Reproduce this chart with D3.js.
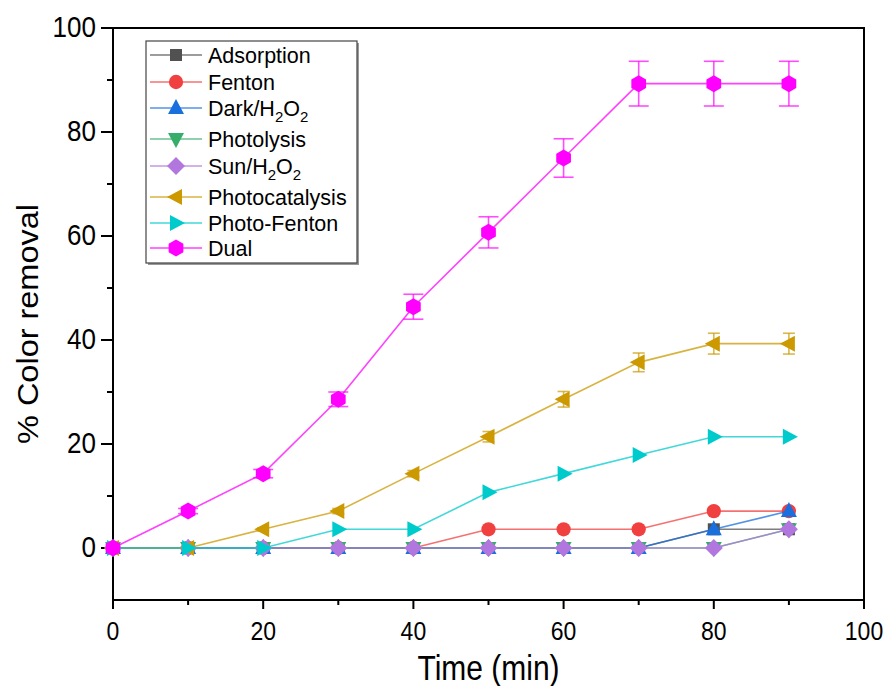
<!DOCTYPE html>
<html>
<head>
<meta charset="utf-8">
<script src="https://cdn.jsdelivr.net/npm/d3@7/dist/d3.min.js"></script>
<style>
  html, body { margin: 0; padding: 0; background: #fff; }
  svg { display: block; font-family: "Liberation Sans", Arial, sans-serif; }
</style>
</head>
<body>
<div id="chart"></div>
<script>
const times = [0, 10, 20, 30, 40, 50, 60, 70, 80, 90];

const adsorption = [0, 0, 0, 0, 0, 0, 0, 0, 3.6, 3.6];
const fenton = [0, 0, 0, 0, 0, 3.6, 3.6, 3.6, 7.1, 7.1];
const darkH2O2 = [0, 0, 0, 0, 0, 0, 0, 0, 3.6, 7.1];
const photolysis = [0, 0, 0, 0, 0, 0, 0, 0, 0, 3.6];
const sunH2O2 = [0, 0, 0, 0, 0, 0, 0, 0, 0, 3.6];
const photocatalysis = [0, 0, 3.6, 7.1, 14.3, 21.4, 28.6, 35.7, 39.3, 39.3];
const photocatalysisErr = [0, 0, 0.3, 0.5, 0.6, 1.0, 1.5, 1.8, 2.0, 2.0];
const photoFenton = [0, 0, 0, 3.6, 3.6, 10.7, 14.3, 17.9, 21.4, 21.4];
const dual = [0, 7.1, 14.3, 28.6, 46.4, 60.7, 75.0, 89.3, 89.3, 89.3];
const dualErr = [0, 0.5, 0.8, 1.4, 2.4, 3.0, 3.7, 4.3, 4.3, 4.3];

const xTicks = [0, 20, 40, 60, 80, 100];
const yTicks = [0, 20, 40, 60, 80, 100];

const series = [
  { name: 'Adsorption', values: adsorption, color: '#515151', shape: 'square' },
  { name: 'Fenton', values: fenton, color: '#F14040', shape: 'circle' },
  { name: 'Dark/H|2|O|2', values: darkH2O2, color: '#1A6FDF', shape: 'up' },
  { name: 'Photolysis', values: photolysis, color: '#37AD6B', shape: 'down' },
  { name: 'Sun/H|2|O|2', values: sunH2O2, color: '#B177DE', shape: 'diamond' },
  { name: 'Photocatalysis', values: photocatalysis, err: photocatalysisErr, color: '#CC9900', shape: 'left', cap: 6 },
  { name: 'Photo-Fenton', values: photoFenton, color: '#00CBCC', shape: 'right' },
  { name: 'Dual', values: dual, err: dualErr, color: '#FF00FF', shape: 'hex', cap: 10 }
];

const width = 888, height = 686;
const margin = { top: 28, right: 24, bottom: 86, left: 113 };
const innerW = width - margin.left - margin.right;
const innerH = height - margin.top - margin.bottom;

const svg = d3.select('#chart').append('svg').attr('width', width).attr('height', height);
const plot = svg.append('g').attr('transform', `translate(${margin.left},${margin.top})`);

const x = d3.scaleLinear().domain([0, 100]).range([0, innerW]);
const y = d3.scaleLinear().domain([-10, 100]).range([innerH, 0]);

function markerPath(shape) {
  switch (shape) {
    case 'square': return 'M-6,-6H6V6H-6Z';
    case 'circle': return d3.symbol(d3.symbolCircle, 160)();
    case 'up': return 'M0,-9L8,6H-8Z';
    case 'down': return 'M0,9L8,-6H-8Z';
    case 'left': return 'M-9,0L6,-8V8Z';
    case 'right': return 'M9,0L-6,-8V8Z';
    case 'diamond': return 'M0,-9L9,0L0,9L-9,0Z';
    case 'hex': {
      const pts = d3.range(6).map((i) => {
        const a = Math.PI / 6 + i * Math.PI / 3;
        return [8.5 * Math.cos(a), 8.5 * Math.sin(a)];
      });
      return 'M' + pts.join('L') + 'Z';
    }
  }
}

// minor ticks
const minorX = d3.range(10, 100, 20);
const minorY = d3.range(-10, 100, 20).filter((v) => v > -10);

const axisG = plot.append('g').attr('stroke', '#000').attr('stroke-width', 2);
axisG.selectAll('.xmaj').data(xTicks).join('line')
  .attr('x1', (d) => x(d)).attr('x2', (d) => x(d)).attr('y1', innerH).attr('y2', innerH + 9);
axisG.selectAll('.xmin').data(minorX).join('line').attr('class', 'xmin')
  .attr('x1', (d) => x(d)).attr('x2', (d) => x(d)).attr('y1', innerH).attr('y2', innerH + 5);
axisG.selectAll('.ymaj').data(yTicks).join('line').attr('class', 'ymaj')
  .attr('x1', -12).attr('x2', 0).attr('y1', (d) => y(d)).attr('y2', (d) => y(d));
axisG.selectAll('.ymin').data(minorY).join('line').attr('class', 'ymin')
  .attr('x1', -6).attr('x2', 0).attr('y1', (d) => y(d)).attr('y2', (d) => y(d));

plot.append('rect').attr('width', innerW).attr('height', innerH)
  .attr('fill', 'none').attr('stroke', '#000').attr('stroke-width', 2);

plot.selectAll('.xlab').data(xTicks).join('text').attr('class', 'xlab')
  .attr('transform', (d) => `translate(${x(d)},${innerH + 40}) scale(1,1.15)`)
  .attr('text-anchor', 'middle').attr('font-size', 23).text((d) => d);
plot.selectAll('.ylab').data(yTicks).join('text').attr('class', 'ylab')
  .attr('transform', (d) => `translate(-17,${y(d) + 9}) scale(1,1.1)`)
  .attr('text-anchor', 'end').attr('font-size', 26).text((d) => d);

plot.append('text')
  .attr('transform', `translate(${innerW / 2},${innerH + 80}) scale(1,1.15)`)
  .attr('text-anchor', 'middle').attr('font-size', 30).text('Time (min)');
svg.append('text')
  .attr('transform', `translate(38,${margin.top + innerH / 2 + 10}) rotate(-90) scale(1.12,1)`)
  .attr('text-anchor', 'middle').attr('font-size', 29).text('% Color removal');

const line = d3.line().x((d) => x(d[0])).y((d) => y(d[1]));

series.forEach((s) => {
  const pts = times.map((t, i) => [t, s.values[i], s.err ? s.err[i] : 0]);
  const g = plot.append('g');
  g.append('path').datum(pts).attr('d', line)
    .attr('fill', 'none').attr('stroke', s.color).attr('stroke-width', 1.6).attr('stroke-opacity', 0.75);
  if (s.err) {
    const eb = g.append('g').attr('stroke', s.color).attr('stroke-width', 1.6).attr('stroke-opacity', 0.7);
    pts.filter((d) => d[2] > 0).forEach((d) => {
      const cx = x(d[0]);
      eb.append('line').attr('x1', cx).attr('x2', cx).attr('y1', y(d[1] - d[2])).attr('y2', y(d[1] + d[2]));
      eb.append('line').attr('x1', cx - s.cap).attr('x2', cx + s.cap).attr('y1', y(d[1] - d[2])).attr('y2', y(d[1] - d[2]));
      eb.append('line').attr('x1', cx - s.cap).attr('x2', cx + s.cap).attr('y1', y(d[1] + d[2])).attr('y2', y(d[1] + d[2]));
    });
  }
  g.selectAll('.m').data(pts).join('path')
    .attr('transform', (d) => `translate(${x(d[0])},${y(d[1])})`)
    .attr('d', markerPath(s.shape)).attr('fill', s.color);
});

// legend
const legend = svg.append('g').attr('transform', 'translate(146,41)');
legend.append('rect').attr('x', 2).attr('y', 2).attr('width', 211).attr('height', 222).attr('fill', '#999');
legend.append('rect').attr('width', 211).attr('height', 222).attr('fill', '#fff').attr('stroke', '#444').attr('stroke-width', 1.2);
const rowY = [14, 41, 67, 98, 125, 156, 182, 207];
series.forEach((s, i) => {
  const row = legend.append('g').attr('transform', `translate(0,${rowY[i]})`);
  row.append('line').attr('x1', 4).attr('x2', 56).attr('stroke', s.color).attr('stroke-width', 1.4).attr('stroke-opacity', 0.75);
  row.append('path').attr('transform', 'translate(30,0)').attr('d', markerPath(s.shape)).attr('fill', s.color);
  const t = row.append('text').attr('x', 62).attr('y', 8).attr('font-size', 21.5);
  const parts = s.name.split('|');
  parts.forEach((p, j) => {
    const ts = t.append('tspan').text(p);
    if (j % 2 === 1) {
      ts.attr('font-size', 15).attr('dy', 6);
    } else if (j > 0) {
      ts.attr('dy', -6);
    }
  });
});
</script>
</body>
</html>
